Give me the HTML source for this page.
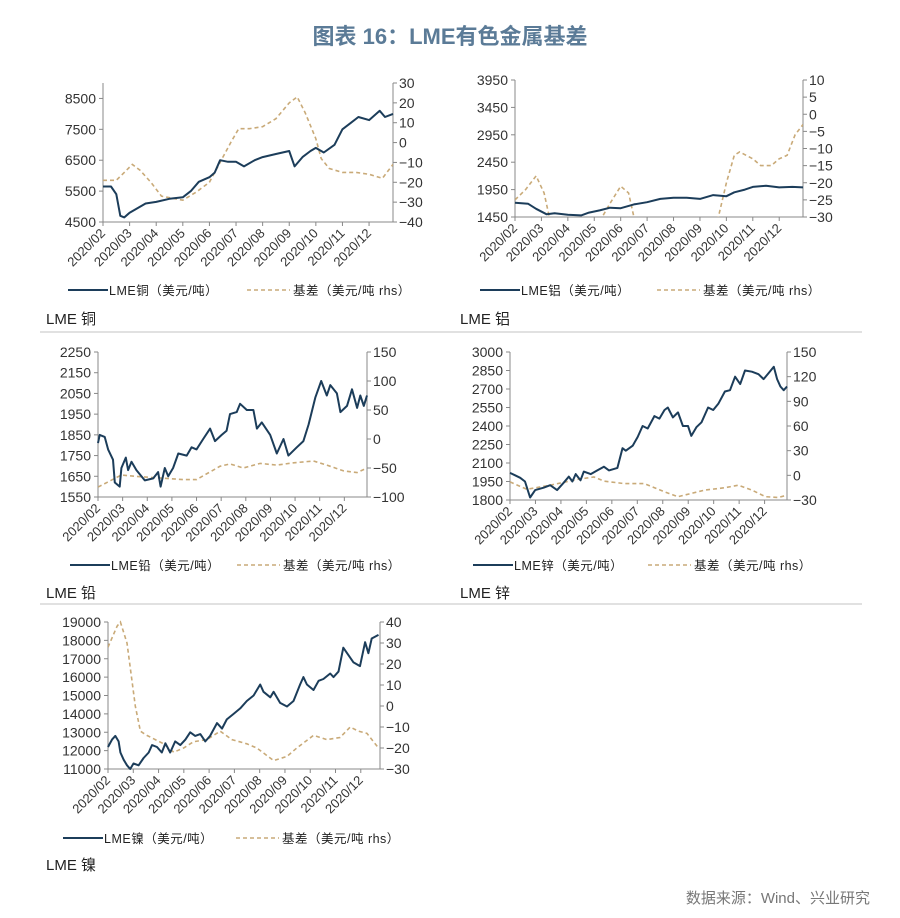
<!DOCTYPE html>
<html><head><meta charset="utf-8">
<style>
html,body{margin:0;padding:0;background:#fff;}
svg{display:block;font-family:"Liberation Sans","Noto Sans CJK SC",sans-serif;}
</style></head>
<body>
<svg id="root" width="900" height="918" viewBox="0 0 900 918" xmlns="http://www.w3.org/2000/svg">
<text x="450" y="44" text-anchor="middle" font-size="22" font-weight="bold" fill="#5b7b97">图表 16：LME有色金属基差</text>
<line x1="40" y1="332" x2="862" y2="332" stroke="#cfcfcf" stroke-width="1.2"/>
<line x1="40" y1="604" x2="862" y2="604" stroke="#cfcfcf" stroke-width="1.2"/>
<text x="870" y="903" text-anchor="end" font-size="15" fill="#777">数据来源：Wind、兴业研究</text>
</svg>
<script>
const months = ["2020/02","2020/03","2020/04","2020/05","2020/06","2020/07","2020/08","2020/09","2020/10","2020/11","2020/12"];

// Copper
const cuPriceT = [0,0.3,0.5,0.65,0.8,1.0,1.3,1.6,2.0,2.5,3.0,3.3,3.6,4.0,4.2,4.4,4.7,5.0,5.3,5.7,6.0,6.5,7.0,7.2,7.5,7.8,8.0,8.3,8.7,9.0,9.3,9.6,10.0,10.4,10.6,10.9];
const cuPrice = [5650,5650,5400,4700,4650,4800,4950,5100,5150,5250,5300,5500,5800,5950,6100,6500,6450,6450,6300,6500,6600,6700,6800,6300,6600,6800,6900,6750,7000,7500,7700,7900,7800,8100,7900,8000];
const cuBasisT = [0,0.5,0.8,1.1,1.4,1.8,2.2,2.6,3.0,3.5,4.0,4.4,4.8,5.1,5.5,6.0,6.5,7.0,7.3,7.6,8.0,8.2,8.5,9.0,9.5,10.0,10.5,10.9];
const cuBasis = [-19,-19,-15,-11,-14,-20,-27,-28,-29,-25,-20,-10,0,7,7,8,12,20,23,15,2,-8,-13,-15,-15,-16,-18,-11];

// Aluminium
const alPriceT = [0,0.5,0.8,1.2,1.5,2.0,2.5,2.8,3.2,3.6,4.0,4.5,5.0,5.5,6.0,6.5,7.0,7.5,8.0,8.3,8.7,9.0,9.5,10.0,10.5,10.9];
const alPrice = [1710,1690,1600,1500,1520,1490,1480,1530,1570,1620,1610,1680,1720,1780,1800,1800,1780,1850,1830,1900,1950,2000,2020,1990,2000,1990];
const alBasisT = [0,0.4,0.8,1.1,1.3,1.5,3.0,3.3,3.6,4.0,4.3,4.5,4.7,7.5,7.7,8.0,8.3,8.5,9.0,9.3,9.7,10.0,10.3,10.6,10.9];
const alBasis = [-25,-22,-18,-23,-30,-35,-35,-30,-26,-21,-23,-30,-35,-35,-30,-20,-12,-11,-13,-15,-15,-13,-12,-6,-3];

// Lead
const pbPriceT = [0,0.07,0.27,0.41,0.61,0.68,0.88,0.95,1.13,1.22,1.36,1.56,1.90,2.24,2.44,2.54,2.71,2.85,3.05,3.26,3.60,3.80,4.00,4.27,4.55,4.75,5.02,5.22,5.36,5.63,5.77,6.04,6.31,6.45,6.65,6.99,7.26,7.53,7.73,8.07,8.34,8.55,8.82,9.06,9.29,9.43,9.70,9.84,10.11,10.31,10.52,10.65,10.79,10.92];
const pbPrice = [1810,1850,1840,1780,1730,1620,1600,1690,1740,1680,1720,1680,1630,1640,1670,1600,1690,1650,1690,1760,1750,1790,1780,1830,1880,1820,1850,1870,1950,1960,2000,1970,1970,1880,1910,1850,1760,1830,1750,1790,1820,1900,2030,2110,2040,2090,2050,1960,1990,2070,1980,2040,1990,2040];
const pbBasisT = [0,0.95,1.70,2.78,3.46,4.0,4.95,5.36,5.90,6.58,7.26,7.94,8.75,9.29,9.97,10.52,10.92];
const pbBasis = [-83,-62,-65,-68,-70,-70,-47,-43,-50,-42,-45,-41,-38,-45,-55,-58,-50];

// Zinc
const znPriceT = [0,0.2,0.4,0.59,0.79,0.99,1.32,1.58,1.85,2.11,2.31,2.45,2.58,2.77,2.90,3.17,3.43,3.69,3.89,4.22,4.42,4.55,4.82,5.01,5.21,5.41,5.67,5.87,6.07,6.20,6.40,6.60,6.79,6.99,7.12,7.32,7.52,7.78,7.98,8.18,8.44,8.64,8.84,9.04,9.23,9.50,9.76,9.96,10.16,10.36,10.49,10.62,10.75,10.88];
const znPrice = [2020,2000,1980,1950,1820,1880,1900,1920,1880,1940,1990,1950,2010,1960,2030,2010,2040,2070,2040,2060,2220,2200,2240,2310,2400,2380,2480,2460,2530,2550,2470,2510,2400,2400,2320,2390,2430,2550,2530,2580,2680,2690,2800,2740,2850,2840,2820,2780,2830,2880,2780,2720,2690,2720];
const znBasisT = [0,0.66,1.58,2.64,3.30,3.69,4.49,5.28,6.07,6.60,7.12,7.65,8.44,8.97,9.50,10.03,10.55,10.88];
const znBasis = [-8,-17,-12,-5,-2,-7,-10,-10,-20,-26,-22,-18,-15,-12,-18,-26,-27,-24];

// Nickel
const niPriceT = [0,0.16,0.29,0.42,0.49,0.62,0.75,0.88,1.01,1.21,1.41,1.61,1.74,1.94,2.13,2.27,2.46,2.66,2.86,3.06,3.25,3.45,3.65,3.85,4.04,4.31,4.51,4.70,4.97,5.23,5.49,5.76,6.02,6.15,6.42,6.55,6.81,7.08,7.34,7.60,7.73,7.87,8.13,8.33,8.52,8.79,8.92,9.12,9.31,9.51,9.71,9.97,10.17,10.30,10.43,10.70];
const niPrice = [12200,12600,12800,12500,11900,11500,11200,11000,11300,11200,11600,11900,12300,12200,11900,12400,11900,12500,12300,12600,13000,12800,12900,12500,12800,13500,13200,13700,14000,14300,14700,15000,15600,15200,14900,15200,14600,14400,14700,15600,16000,15600,15300,15800,15900,16200,16000,16300,17600,17200,16800,16600,17900,17300,18100,18300];
const niBasisT = [0,0.36,0.49,0.75,1.08,1.28,1.54,2.20,2.60,2.99,3.39,3.91,4.44,4.90,5.49,5.89,6.55,7.08,7.47,8.13,8.66,9.18,9.58,9.91,10.24,10.70];
const niBasis = [28,38,40,30,0,-12,-14,-18,-22,-20,-17,-16,-12,-16,-18,-20,-26,-24,-20,-14,-16,-15,-10,-12,-13,-20];

const NS = "http://www.w3.org/2000/svg";
const root = document.getElementById('root');
function mk(tag, attrs, parent){
  const e = document.createElementNS(NS, tag);
  for (const k in attrs) e.setAttribute(k, attrs[k]);
  (parent||root).appendChild(e);
  return e;
}

const charts = [
 {key:'copper', name:'LME铜', title:'LME 铜', x0:103, x1:393, y0:83, y1:222, tEnd:10.9, lmin:4500, lmax:9000, lticks:[4500,5500,6500,7500,8500], rmin:-40, rmax:30, rticks:[-40,-30,-20,-10,0,10,20,30], pT:cuPriceT, p:cuPrice, bT:cuBasisT, b:cuBasis, legY:290, legX1:68, legX2:247, titleY:324},
 {key:'aluminium', name:'LME铝', title:'LME 铝', x0:515, x1:803, y0:80, y1:217, tEnd:10.9, lmin:1450, lmax:3950, lticks:[1450,1950,2450,2950,3450,3950], rmin:-30, rmax:10, rticks:[-30,-25,-20,-15,-10,-5,0,5,10], pT:alPriceT, p:alPrice, bT:alBasisT, b:alBasis, legY:290, legX1:480, legX2:657, titleY:324},
 {key:'lead', name:'LME铅', title:'LME 铅', x0:98, x1:367, y0:352, y1:497, tEnd:10.92, lmin:1550, lmax:2250, lticks:[1550,1650,1750,1850,1950,2050,2150,2250], rmin:-100, rmax:150, rticks:[-100,-50,0,50,100,150], pT:pbPriceT, p:pbPrice, bT:pbBasisT, b:pbBasis, legY:565, legX1:70, legX2:237, titleY:598},
 {key:'zinc', name:'LME锌', title:'LME 锌', x0:510, x1:787, y0:352, y1:500, tEnd:10.88, lmin:1800, lmax:3000, lticks:[1800,1950,2100,2250,2400,2550,2700,2850,3000], rmin:-30, rmax:150, rticks:[-30,0,30,60,90,120,150], pT:znPriceT, p:znPrice, bT:znBasisT, b:znBasis, legY:565, legX1:473, legX2:648, titleY:598},
 {key:'nickel', name:'LME镍', title:'LME 镍', x0:108, x1:380, y0:622, y1:769, tEnd:10.76, lmin:11000, lmax:19000, lticks:[11000,12000,13000,14000,15000,16000,17000,18000,19000], rmin:-30, rmax:40, rticks:[-30,-20,-10,0,10,20,30,40], pT:niPriceT, p:niPrice, bT:niBasisT, b:niBasis, legY:838, legX1:63, legX2:236, titleY:870}
];

charts.forEach(function(c){
  const g = mk('g', {});
  
  
  const xs = t => c.x0 + (c.x1 - c.x0) * t / c.tEnd;
  const yl = v => c.y1 - (c.y1 - c.y0) * (v - c.lmin) / (c.lmax - c.lmin);
  const yr = v => c.y1 - (c.y1 - c.y0) * (v - c.rmin) / (c.rmax - c.rmin);
  const ax = '#888';
  // clip
  const cp = mk('clipPath', {id:'clip-' + c.key}, g);
  mk('rect', {x:c.x0, y:c.y0 - 2, width:c.x1 - c.x0, height:c.y1 - c.y0 + 2}, cp);
  // axes
  let l = mk('line', {x1:c.x0, y1:c.y0, x2:c.x0, y2:c.y1, stroke:ax, 'stroke-width':1}, g);
  
  
  l = mk('line', {x1:c.x1, y1:c.y0, x2:c.x1, y2:c.y1, stroke:ax, 'stroke-width':1}, g);
  
  
  l = mk('line', {x1:c.x0, y1:c.y1, x2:c.x1, y2:c.y1, stroke:ax, 'stroke-width':1}, g);
  
  
  c.lticks.forEach(function(v){
    mk('line', {x1:c.x0 - 4, y1:yl(v), x2:c.x0, y2:yl(v), stroke:ax}, g);
    const t = mk('text', {x:c.x0 - 7, y:yl(v) + 5, 'text-anchor':'end', 'font-size':14, fill:'#333'}, g);
    t.textContent = v;
    
    
  });
  c.rticks.forEach(function(v){
    mk('line', {x1:c.x1, y1:yr(v), x2:c.x1 + 4, y2:yr(v), stroke:ax}, g);
    const t = mk('text', {x:c.x1 + 6, y:yr(v) + 5, 'font-size':14, fill:'#333'}, g);
    t.textContent = v < 0 ? '\u2212' + Math.abs(v) : v;
    
    
  });
  months.forEach(function(m, i){
    const x = xs(i);
    mk('line', {x1:x, y1:c.y1, x2:x, y2:c.y1 + 4, stroke:ax}, g);
    const t = mk('text', {x:x + 3, y:c.y1 + 12, 'text-anchor':'end', 'font-size':13, fill:'#333', transform:'rotate(-45 ' + (x + 3) + ' ' + (c.y1 + 12) + ')'}, g);
    t.textContent = m;
    
    
  });
  // series
  const pd = c.pT.map((t, i) => (i ? 'L' : 'M') + xs(t).toFixed(1) + ',' + yl(c.p[i]).toFixed(1)).join('');
  const bd = c.bT.map((t, i) => (i ? 'L' : 'M') + xs(t).toFixed(1) + ',' + yr(c.b[i]).toFixed(1)).join('');
  const bp = mk('path', {d:bd, fill:'none', stroke:'#c9aa78', 'stroke-width':1.6, 'stroke-dasharray':'4,3', 'clip-path':'url(#clip-' + c.key + ')'}, g);
  
  
  const pp = mk('path', {d:pd, fill:'none', stroke:'#1c3d5a', 'stroke-width':2, 'stroke-linejoin':'round'}, g);
  
  
  // legend
  const lg = mk('g', {}, g);
  
  
  mk('line', {x1:c.legX1, y1:c.legY, x2:c.legX1 + 40, y2:c.legY, stroke:'#1c3d5a', 'stroke-width':2}, lg);
  let lt = mk('text', {x:c.legX1 + 41, y:c.legY + 5, 'font-size':12.5, fill:'#222', 'letter-spacing':'0.5'}, lg);
  lt.textContent = c.name + '（美元/吨）';
  
  
  mk('line', {x1:c.legX2, y1:c.legY, x2:c.legX2 + 43, y2:c.legY, stroke:'#c9aa78', 'stroke-width':1.6, 'stroke-dasharray':'4,3'}, lg);
  lt = mk('text', {x:c.legX2 + 46, y:c.legY + 5, 'font-size':12.5, fill:'#222', 'letter-spacing':'0.5'}, lg);
  lt.textContent = '基差（美元/吨 rhs）';
  
  
  const tt = mk('text', {x:46, y:c.titleY, 'font-size':15, fill:'#222'}, g);
  tt.setAttribute('x', c.x0 > 450 ? 460 : 46);
  tt.textContent = c.title;
  
  
});
</script>
</body></html>
